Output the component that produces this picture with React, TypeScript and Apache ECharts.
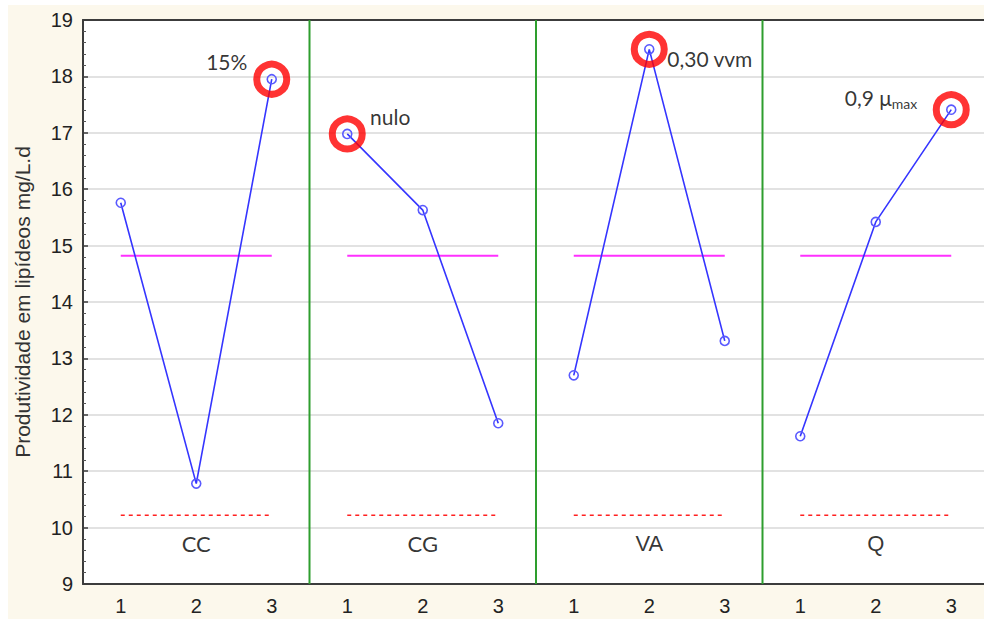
import React, { useEffect, useRef } from "react";
import * as echarts from "echarts";

// Factors and their levels
const groups = ["CC", "CG", "VA", "Q"];
const levels = ["1", "2", "3"];

// Mean lipid productivity (mg/L.d) at each level of each factor
const ccValues = [15.76, 10.78, 17.95];
const cgValues = [16.98, 15.63, 11.85];
const vaValues = [12.7, 18.48, 13.31];
const qValues = [11.62, 15.42, 17.41];
const groupValues = [ccValues, cgValues, vaValues, qValues];

// Reference lines
const grandMean = 14.82;
const lowerLimit = 10.22;

// Best level of each factor and its note
const bestLevel = [2, 0, 1, 2];
const bestNotes = ["15%", "nulo", "0,30 vvm", "{b|0,9 μ}{s|max}"];

// Value axis range
const yMin = 9;
const yMax = 19;

const ARIAL = "'Liberation Sans', Arial, sans-serif";
const HUMANIST = "Lato, 'Open Sans', sans-serif";

const categories = groups.flatMap((g) => levels.map((l) => `${g}-${l}`));

const noteStyles = [
  { align: "center", offset: [-45, -18] },
  { align: "center", offset: [43, -17] },
  { align: "left", offset: [18, 9] },
  { align: "right", offset: [-34, -12] },
];

export default function App() {
  const ref = useRef<HTMLDivElement>(null);

  useEffect(() => {
    if (!ref.current) return;
    const chart = echarts.init(ref.current, undefined, { renderer: "svg" });

    const series: any[] = [];

    // Group separators on a hidden 0..12 value axis
    [3, 6, 9].forEach((x) => {
      series.push({
        type: "line",
        xAxisIndex: 2,
        data: [
          [x, yMin],
          [x, yMax],
        ],
        symbol: "none",
        silent: true,
        lineStyle: { color: "#2e9e2e", width: 2 },
        z: 1,
      });
    });

    groups.forEach((g, gi) => {
      const first = `${g}-${levels[0]}`;
      const last = `${g}-${levels[levels.length - 1]}`;
      // grand mean
      series.push({
        type: "line",
        data: [
          [first, grandMean],
          [last, grandMean],
        ],
        symbol: "none",
        silent: true,
        lineStyle: { color: "#ff30ff", width: 2 },
        z: 2,
      });
      // lower limit
      series.push({
        type: "line",
        data: [
          [first, lowerLimit],
          [last, lowerLimit],
        ],
        symbol: "none",
        silent: true,
        lineStyle: { color: "#ff2020", width: 1.5, type: [4, 4] },
        z: 2,
      });
      // level means
      series.push({
        type: "line",
        data: levels.map((l, i) => [`${g}-${l}`, groupValues[gi][i]]),
        symbol: "circle",
        symbolSize: 9,
        silent: true,
        lineStyle: { color: "#3535ff", width: 1.6 },
        itemStyle: {
          color: "rgba(0,0,0,0)",
          borderColor: "#5a5aff",
          borderWidth: 1.6,
        },
        z: 3,
      });
      // highlighted best level
      const bi = bestLevel[gi];
      const ns = noteStyles[gi];
      series.push({
        type: "scatter",
        data: [
          {
            value: [`${g}-${levels[bi]}`, groupValues[gi][bi]],
            label: {
              show: true,
              position: "inside",
              formatter: bestNotes[gi],
              align: ns.align,
              verticalAlign: "middle",
              offset: ns.offset,
              color: "#000",
              fontFamily: HUMANIST,
              fontSize: 21,
              rich: {
                b: { fontFamily: HUMANIST, fontSize: 21, color: "#000" },
                s: {
                  fontFamily: HUMANIST,
                  fontSize: 14,
                  color: "#000",
                  padding: [12, 0, 0, 0],
                },
              },
            },
          },
        ],
        symbol: "circle",
        symbolSize: 30,
        silent: true,
        itemStyle: {
          color: "rgba(0,0,0,0)",
          borderColor: "#ff0000",
          borderWidth: 7,
        },
        z: 4,
      });
    });

    // Factor names under each group
    series.push({
      type: "scatter",
      data: groups.map((g) => ({
        value: [`${g}-${levels[1]}`, 9.72],
        label: {
          fontFamily: g === "CC" || g === "CG" ? HUMANIST : ARIAL,
        },
      })),
      symbolSize: 1,
      silent: true,
      itemStyle: { color: "rgba(0,0,0,0)" },
      label: {
        show: true,
        position: "inside",
        formatter: (p: any) => p.value[0].split("-")[0],
        color: "#000",
        fontSize: 22,
      },
      z: 5,
    });

    chart.setOption({
      animation: false,
      backgroundColor: "#fcf8ec",
      grid: {
        left: 75,
        top: 15,
        width: 906,
        height: 564,
        outerBoundsMode: "none",
        containLabel: false,
        show: true,
        backgroundColor: "#ffffff",
        borderWidth: 0,
      },
      xAxis: [
        {
          type: "category",
          data: categories,
          position: "bottom",
          boundaryGap: true,
          axisLine: { lineStyle: { color: "#3c3c3c", width: 2 } },
          axisTick: {
            inside: true,
            alignWithLabel: true,
            length: 5,
            lineStyle: { color: "#3c3c3c", width: 1.5 },
          },
          axisLabel: {
            formatter: (v: string) => v.split("-")[1],
            color: "#222",
            fontFamily: ARIAL,
            fontSize: 20,
            margin: 12,
          },
          splitLine: { show: false },
        },
        {
          type: "category",
          data: categories,
          position: "top",
          boundaryGap: true,
          axisLine: { lineStyle: { color: "#3c3c3c", width: 2 } },
          axisTick: {
            inside: true,
            alignWithLabel: true,
            length: 5,
            lineStyle: { color: "#3c3c3c", width: 1.5 },
          },
          axisLabel: { show: false },
          splitLine: { show: false },
        },
        {
          type: "value",
          min: 0,
          max: 12,
          show: false,
        },
      ],
      yAxis: {
        type: "value",
        min: yMin,
        max: yMax,
        interval: 1,
        name: "Produtividade em lipídeos mg/L.d",
        nameLocation: "middle",
        nameGap: 50,
        nameTextStyle: {
          color: "#333",
          fontFamily: ARIAL,
          fontSize: 21,
        },
        axisLine: { show: true, lineStyle: { color: "#3c3c3c", width: 2 } },
        axisTick: {
          show: true,
          inside: true,
          length: 5,
          lineStyle: { color: "#3c3c3c", width: 1.5 },
        },
        minorTick: {
          show: true,
          splitNumber: 5,
          length: 3,
          lineStyle: { color: "#555", width: 1 },
        },
        axisLabel: {
          color: "#222",
          fontFamily: ARIAL,
          fontSize: 20,
          margin: 10,
        },
        splitLine: { show: true, lineStyle: { color: "#d9d9d9", width: 1.5 } },
      },
      series,
    });

    return () => chart.dispose();
  }, []);

  return (
    <div
      style={{
        position: "fixed",
        left: 0,
        top: 0,
        width: 984,
        height: 619,
        background: "#ffffff",
        overflow: "hidden",
      }}
    >
      <div
        ref={ref}
        style={{ position: "absolute", left: 8, top: 5, width: 976, height: 614 }}
      />
    </div>
  );
}
